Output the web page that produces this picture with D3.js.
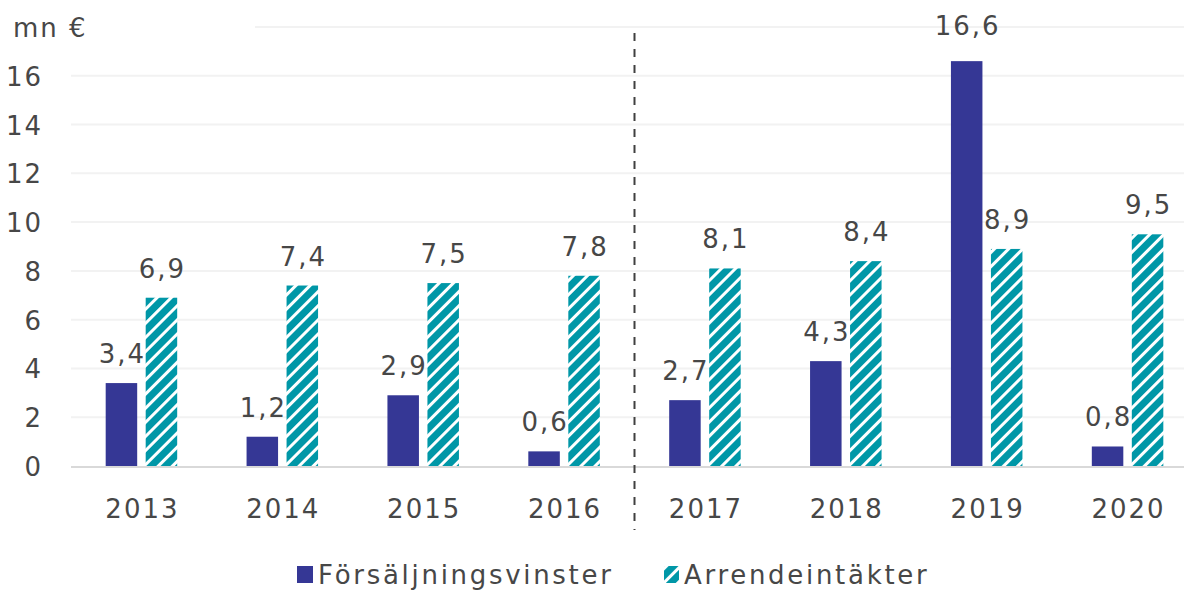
<!DOCTYPE html>
<html>
<head>
<meta charset="utf-8">
<script src="https://cdn.jsdelivr.net/npm/d3@7"></script>
<style>
  body { margin: 0; background: #fff; }
  text { font-family: "DejaVu Sans", sans-serif; fill: #474747; font-size: 26px; letter-spacing: 2px; }
  .legend text { letter-spacing: 2.7px; }
</style>
</head>
<body>
<div id="chart"></div>
<script>
// Data
const years = ['2013', '2014', '2015', '2016', '2017', '2018', '2019', '2020'];
const salesGains = [3.4, 1.2, 2.9, 0.6, 2.7, 4.3, 16.6, 0.8];
const leaseIncome = [6.9, 7.4, 7.5, 7.8, 8.1, 8.4, 8.9, 9.5];
const seriesNames = ['Försäljningsvinster', 'Arrendeintäkter'];
const yTicks = [0, 2, 4, 6, 8, 10, 12, 14, 16];

const width = 1184, height = 590;
const fmt = v => String(v.toFixed(1)).replace('.', ',');

const svg = d3.select('#chart')
  .append('svg')
  .attr('width', width)
  .attr('height', height);

// hatch pattern for lease income
const defs = svg.append('defs');
const pat = defs.append('pattern')
  .attr('id', 'hatch')
  .attr('patternUnits', 'userSpaceOnUse')
  .attr('width', 10)
  .attr('height', 10)
  .attr('patternTransform', 'rotate(-45)');
pat.append('rect').attr('width', 10).attr('height', 10).attr('fill', '#0097a7');
pat.append('rect').attr('x', 0).attr('y', 0).attr('width', 10).attr('height', 3).attr('fill', '#fff');

const x = d3.scaleBand()
  .domain(years)
  .range([71, 1198])
  .padding(0);

const y = d3.scaleLinear()
  .domain([0, 18])
  .range([466, 27]);

const barW = 31.5, gap = 8.5;

// gridlines
svg.append('g')
  .selectAll('line')
  .data(yTicks.concat([18]).filter(d => d > 0))
  .enter()
  .append('line')
  .attr('x1', d => d === 18 ? 255 : 71)
  .attr('x2', width)
  .attr('y1', d => y(d))
  .attr('y2', d => y(d))
  .attr('stroke', '#f2f2f2')
  .attr('stroke-width', 2);

// y labels
svg.append('g')
  .selectAll('text')
  .data(yTicks)
  .enter()
  .append('text')
  .attr('x', 43)
  .attr('y', d => y(d) + 10)
  .attr('text-anchor', 'end')
  .text(d => d);

svg.append('text')
  .attr('x', 13)
  .attr('y', 37)
  .text('mn €');

// bars
const groups = svg.append('g')
  .selectAll('g')
  .data(years)
  .enter()
  .append('g')
  .attr('transform', d => `translate(${x(d) + x.bandwidth() / 2},0)`);

groups.append('rect')
  .attr('x', -gap / 2 - barW)
  .attr('width', barW)
  .attr('y', (d, i) => y(salesGains[i]))
  .attr('height', (d, i) => y(0) - y(salesGains[i]))
  .attr('fill', '#353795');

groups.append('rect')
  .attr('x', gap / 2)
  .attr('width', barW)
  .attr('y', (d, i) => y(leaseIncome[i]))
  .attr('height', (d, i) => y(0) - y(leaseIncome[i]))
  .attr('fill', 'url(#hatch)');

groups.append('text')
  .attr('x', -gap / 2 - barW / 2 + 1)
  .attr('y', (d, i) => y(salesGains[i]) - (salesGains[i] > 15 ? 26 : 20))
  .attr('text-anchor', 'middle')
  .text((d, i) => fmt(salesGains[i]));

groups.append('text')
  .attr('x', gap / 2 + barW / 2 + 1)
  .attr('y', (d, i) => y(leaseIncome[i]) - 20)
  .attr('text-anchor', 'middle')
  .text((d, i) => fmt(leaseIncome[i]));

// baseline
svg.append('line')
  .attr('x1', 71).attr('x2', width)
  .attr('y1', y(0) + 1).attr('y2', y(0) + 1)
  .attr('stroke', '#d9d9d9')
  .attr('stroke-width', 2);

// x labels
svg.append('g')
  .selectAll('text')
  .data(years)
  .enter()
  .append('text')
  .attr('x', d => x(d) + x.bandwidth() / 2 + 1)
  .attr('y', 518)
  .attr('text-anchor', 'middle')
  .text(d => d);

// dashed separator between 2016 and 2017
svg.append('line')
  .attr('x1', x('2017')).attr('x2', x('2017'))
  .attr('y1', 33).attr('y2', 530)
  .attr('stroke', '#404040')
  .attr('stroke-width', 2)
  .attr('stroke-dasharray', '8,8');

// legend
const legend = svg.append('g').attr('class', 'legend');
legend.append('rect')
  .attr('x', 297).attr('y', 566).attr('width', 16).attr('height', 17)
  .attr('fill', '#353795');
legend.append('text')
  .attr('x', 318).attr('y', 584)
  .text(seriesNames[0]);
legend.append('rect')
  .attr('x', 664).attr('y', 566).attr('width', 15).attr('height', 17)
  .attr('fill', 'url(#hatch)');
legend.append('text')
  .attr('x', 684).attr('y', 584)
  .text(seriesNames[1]);
</script>
</body>
</html>
